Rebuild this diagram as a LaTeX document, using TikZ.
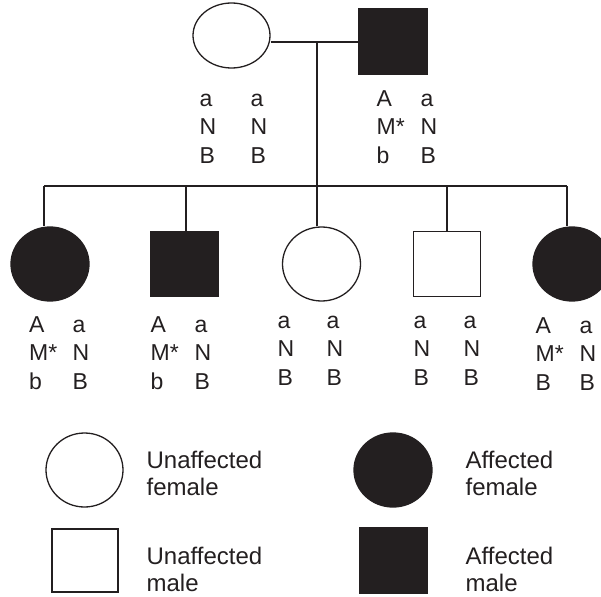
\documentclass[tikz,border=0pt]{standalone}
\usepackage{fontspec}
\setmainfont{Liberation Sans}
\usetikzlibrary{shapes.geometric}
\definecolor{ink}{HTML}{231F20}
\begin{document}
\begin{tikzpicture}[x=1pt,y=-1pt,
  line width=1.2pt,
  link/.style={draw=ink, line width=1.2pt},
  fem/.style={ellipse, draw=ink, line width=1.3pt, inner sep=0pt,
    minimum width=78pt, minimum height=74pt},
  mal/.style={rectangle, draw=ink, line width=1.3pt, inner sep=0pt,
    minimum width=67pt, minimum height=65pt},
  aff/.style={fill=ink},
  % multi-line nodes: the base anchor sits on the last line
  geno/.style={anchor=base west, align=left, inner sep=0pt, text=ink,
    font=\fontsize{23}{28.3}\selectfont},
  legtext/.style={anchor=base west, align=left, inner sep=0pt, text=ink,
    font=\fontsize{24}{27}\selectfont}]
\useasboundingbox (0,0) rectangle (601,596);
\clip (0,0) rectangle (601,596);

% parents
\node[fem, minimum width=77pt, minimum height=65pt] (mother) at (231.5,35.5) {};
\node[mal, aff, minimum width=68pt] (father) at (393,41.5) {};

% children
\node[fem, aff] (c1) at (50,264) {};
\node[mal, aff] (c2) at (184.5,264) {};
\node[fem] (c3) at (321.5,264) {};
\node[mal] (c4) at (447,264) {};
\node[fem, aff] (c5) at (572,264) {};

% mating line, descent line and sibship line
\coordinate (mate) at (317,42);
\coordinate (sib) at (317,186);
\coordinate (d1) at (44,186);
\coordinate (d2) at (186,186);
\coordinate (d4) at (447,186);
\coordinate (d5) at (567,186);
\draw[link] (mother.east |- mate) -- (father.west |- mate);
\draw[link] (mate) -- (sib);
\draw[link] (d1) -- (d5);
\draw[link] (d1) -- (d1 |- c1.north);
\draw[link] (d2) -- (d2 |- c2.north);
\draw[link, line width=2.2pt] (sib) -- (sib |- c3.north);
\draw[link] (d4) -- (c4.north);
\draw[link] (d5) -- (d5 |- c5.north);

% genotypes (positions give the baseline of the bottom row)
\node[geno] (g0a) at (199,163) {a\\N\\B};
\node[geno] (g0b) at (250,163) {a\\N\\B};
\node[geno] (g1a) at (376,163) {A\\M*\\b};
\node[geno] (g1b) at (420,163) {a\\N\\B};
\node[geno] (g2a) at (28.5,389) {A\\M*\\b};
\node[geno] (g2b) at (72,389) {a\\N\\B};
\node[geno] (g3a) at (150,389) {A\\M*\\b};
\node[geno] (g3b) at (194,389) {a\\N\\B};
\node[geno] (g4a) at (277,385) {a\\N\\B};
\node[geno] (g4b) at (326,385) {a\\N\\B};
\node[geno] (g5a) at (413,385) {a\\N\\B};
\node[geno] (g5b) at (463,385) {a\\N\\B};
\node[geno] (g6a) at (535,390) {A\\M*\\B};
\node[geno] (g6b) at (579,390) {a\\N\\B};

% legend
\node[fem, minimum width=77pt] (lf) at (84.5,470) {};
\node[fem, aff] (laf) at (393,470) {};
\node[mal, minimum width=66pt, minimum height=63pt] (lm) at (85,560.5) {};
\node[mal, aff] (lam) at (393.5,560.5) {};
\node[legtext] (tf) at (146,495) {Unaffected\\female};
\node[legtext] (taf) at (465,495) {Affected\\female};
\node[legtext] (tm) at (146,591) {Unaffected\\male};
\node[legtext] (tam) at (465,591) {Affected\\male};
\end{tikzpicture}
\end{document}
